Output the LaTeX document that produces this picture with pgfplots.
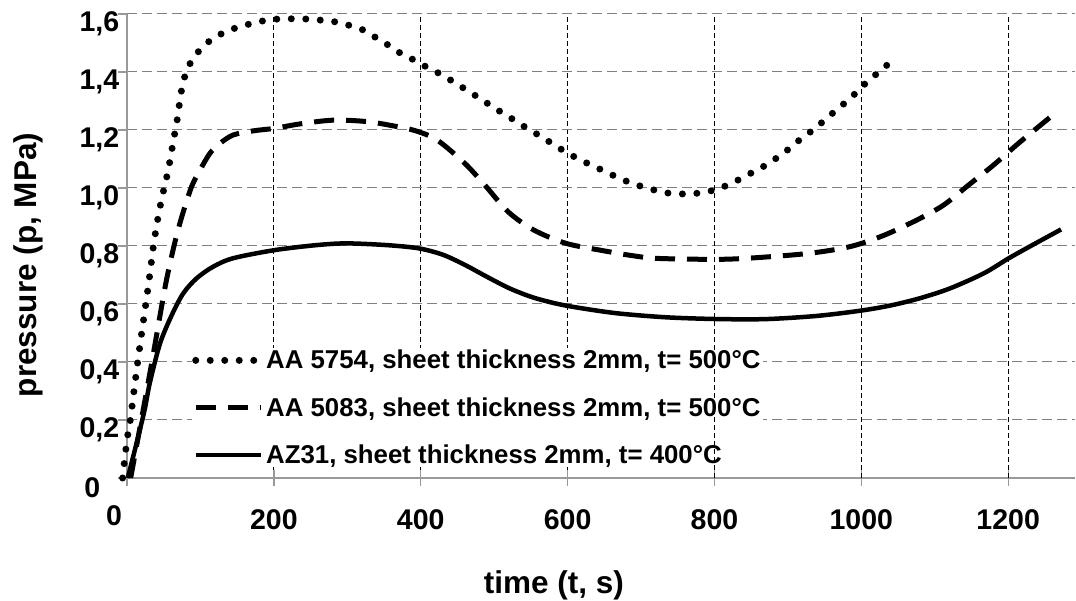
\documentclass[border=0pt]{standalone}
\usepackage{fontspec}
\setmainfont{Liberation Sans}
\usepackage{pgfplots}
\pgfplotsset{compat=1.18}
\pgfplotstableread{
x y
-6 0
-4 0.045
-1.5 0.10
1 0.148
4.5 0.20
9.5 0.30
14.6 0.40
20 0.50
26 0.607
31 0.70
36 0.80
41 0.88
47 0.96
56 1.06
63 1.16
68 1.23
72 1.30
76 1.36
83 1.415
93.6 1.459
107.6 1.497
123.5 1.525
142.6 1.547
161.7 1.562
181 1.574
201.6 1.582
241 1.583
281 1.574
301 1.562
321.5 1.545
338 1.52
355.6 1.493
371 1.467
391 1.441
408 1.417
426 1.394
444 1.367
461 1.34
478 1.313
495 1.285
513 1.256
530 1.23
547 1.202
565 1.176
582 1.148
599 1.122
617 1.097
635 1.076
654 1.053
673 1.031
691 1.013
711 0.998
730 0.985
749 0.980
769 0.980
790 0.987
809 1.001
828 1.022
845 1.045
864 1.07
881 1.097
898 1.128
913 1.16
929 1.19
945 1.223
960 1.256
976 1.29
991 1.324
1005 1.359
1021 1.394
1037 1.428
}\aafivesevenfivefour
\pgfplotstableread{
x y
5 0
22 0.234
36 0.43
52 0.66
64 0.80
74.5 0.90
88 1.005
99.5 1.062
113 1.12
126.7 1.154
144.8 1.183
172 1.197
201.6 1.206
235.7 1.221
281 1.234
326.6 1.229
363 1.214
392 1.198
422 1.166
460 1.085
489 1.005
519 0.918
554 0.855
598 0.809
648 0.784
690 0.766
724 0.757
806 0.754
859 0.760
930 0.775
985 0.798
1030 0.836
1076 0.890
1112 0.941
1146 1.010
1180 1.079
1214 1.154
1248 1.225
1264 1.258
}\aafivezeroeightthree
\pgfplotstableread{
x y
1 0
13 0.12
24 0.235
31 0.327
45 0.464
61 0.562
76.7 0.637
95 0.689
117.6 0.729
144.8 0.758
201.6 0.786
258 0.803
299 0.809
354 0.803
397 0.792
430 0.770
460 0.735
490 0.694
520 0.655
550 0.625
580 0.604
610 0.589
667 0.568
735 0.554
806 0.548
871 0.548
940 0.559
999 0.577
1040 0.595
1080 0.620
1121 0.654
1167 0.706
1201 0.758
1235 0.806
1272 0.857
}\azthirtyone
\begin{document}
\begin{tikzpicture}
\useasboundingbox (-127pt,-123pt) rectangle (949pt,478pt);
\begin{axis}[
  at={(0pt,0pt)}, anchor=south west,
  scale only axis, width=948pt, height=464pt,
  xmin=0, xmax=1291, ymin=0, ymax=1.6,
  clip=false,
  axis x line*=bottom, axis y line*=left,
  axis line style={draw=black!40, line width=1.3pt, -},
  xtick={200,400,600,800,1000,1200},
  xticklabels={200,400,600,800,1000,1200},
  extra x ticks={0}, extra x tick labels={0},
  extra x tick style={grid=none, xticklabel style={xshift=-13pt, yshift=4pt}},
  ytick={0.2,0.4,0.6,0.8,1.0,1.2,1.4,1.6},
  yticklabels={{0,2},{0,4},{0,6},{0,8},{1,0},{1,2},{1,4},{1,6}},
  extra y ticks={0}, extra y tick labels={0},
  extra y tick style={grid=none, yticklabel style={xshift=-19pt}},
  xmajorgrids, ymajorgrids,
  x grid style={black, dash pattern=on 5pt off 3pt, line width=1pt},
  y grid style={black!50, dash pattern=on 10pt off 5pt, line width=1pt},
  xtick align=center, ytick align=outside,
  xtick style={draw=black!40, line width=1.3pt, /pgfplots/major tick length=16pt},
  ytick style={draw=black!40, line width=1.3pt, /pgfplots/major tick length=9pt},
  tick label style={font=\fontsize{28.5}{30}\selectfont\bfseries},
  yticklabel style={yshift=-10pt},
  xticklabel style={yshift=-26pt},
  xlabel={time (t, s)}, ylabel={pressure (p, MPa)},
  label style={font=\fontsize{31.5}{33}\selectfont\bfseries},
  xlabel style={at={(axis description cs:0.4504,-0.232)}, anchor=center},
  ylabel style={at={(axis description cs:-0.1044,0.459)}, anchor=center},
  legend style={at={(rel axis cs:0.0686,0.280)}, anchor=north west, fill=white, draw=none,
    inner sep=0pt, row sep=23pt, font=\fontsize{25.8}{28}\selectfont\bfseries},
  legend cell align=left,
  legend image code/.code={\draw[#1] (0pt,0pt) -- (65pt,0pt);},
]
\addplot[black, line width=7pt, line cap=round, dash pattern=on 0pt off 14.5pt, smooth] table[x=x,y=y] {\aafivesevenfivefour};
\addlegendentry{AA 5754, sheet thickness 2mm, t= 500°C}
\addplot[black, line width=5pt, dash pattern=on 20pt off 12pt, smooth] table[x=x,y=y] {\aafivezeroeightthree};
\addlegendentry{AA 5083, sheet thickness 2mm, t= 500°C}
\addplot[black, line width=4.5pt, smooth] table[x=x,y=y] {\azthirtyone};
\addlegendentry{AZ31, sheet thickness 2mm, t= 400°C}
\end{axis}
\begin{axis}[
  at={(0pt,0pt)}, anchor=south west,
  scale only axis, width=948pt, height=464pt,
  xmin=0, xmax=1291, ymin=0, ymax=1.6,
  axis line style={draw=none},
  xtick={800,1000,1200}, xticklabels={}, ytick=\empty,
  xtick style={draw=none}, major tick length=0pt,
  xmajorgrids,
  x grid style={black, dash pattern=on 5pt off 3pt, line width=1pt},
]
\addplot[draw=none] coordinates {(0,0)};
\end{axis}
\end{tikzpicture}
\end{document}
